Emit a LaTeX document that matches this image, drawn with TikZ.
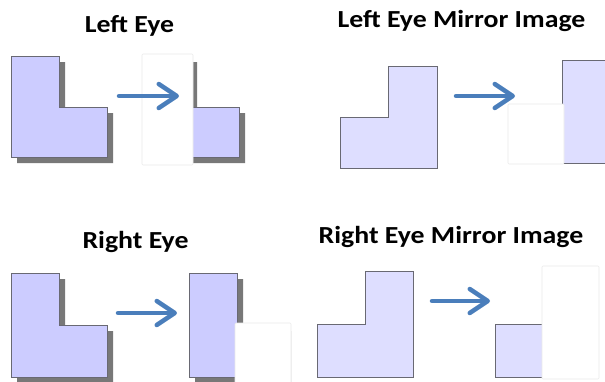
\documentclass[tikz,border=0pt]{standalone}
\usepackage{fontspec}
\setmainfont{Carlito}
\usetikzlibrary{arrows.meta}
\definecolor{lcol}{RGB}{204,204,255}
\definecolor{mcol}{RGB}{222,222,255}
\definecolor{bcol}{RGB}{105,105,115}
\definecolor{scol}{RGB}{120,120,120}
\definecolor{acol}{RGB}{74,126,187}
\newcommand{\wtitle}[1]{\scalebox{1.135}[1]{#1}}
\tikzset{
  lshape/.style={fill=lcol,draw=bcol,line width=0.9pt},
  mshape/.style={fill=mcol,draw=bcol,line width=0.9pt},
  shad/.style={fill=scol,draw=none},
  cover/.style={fill=white,draw=black!8,line width=0.6pt,rounded corners=1pt},
  ttl/.style={font=\bfseries\fontsize{24.5}{28}\selectfont,inner sep=0pt},
  arr/.style={draw=acol,line width=4.5pt,line cap=round,
    -{Straight Barb[length=18pt,width=24pt,line cap=round,line join=round]}},
}
\begin{document}
\begin{tikzpicture}[x=1pt,y=-1pt]
\clip (0,0) rectangle (605,381);
\fill[white] (0,0) rectangle (605,381);
% titles
\node[ttl] (t1) at (129.5,26) {\wtitle{Left Eye}};
\node[ttl] (t2) at (461.5,21) {\wtitle{Left Eye Mirror Image}};
\node[ttl] (t3) at (135.5,242) {\wtitle{Right Eye}};
\node[ttl] (t4) at (451,237) {\wtitle{Right Eye Mirror Image}};
% ---- top-left panel
\fill[shad] (17,62) -- (65,62) -- (65,113) -- (113,113) -- (113,163) -- (17,163) -- cycle;
\draw[lshape] (11,56) -- (59,56) -- (59,107) -- (107,107) -- (107,157) -- (11,157) -- cycle;
\fill[shad] (149,62) -- (197,62) -- (197,113) -- (245,113) -- (245,163) -- (149,163) -- cycle;
\draw[lshape] (143,56) -- (191,56) -- (191,107) -- (239,107) -- (239,157) -- (143,157) -- cycle;
\draw[cover] (142,54) rectangle (193,165);
\coordinate (a1s) at (119,96);
\coordinate (a1e) at (179,96);
\draw[arr] (a1s) -- (a1e);
% ---- top-right panel
\draw[mshape] (388,66) -- (437,66) -- (437,168) -- (340,168) -- (340,117) -- (388,117) -- cycle;
\draw[mshape] (562,60) -- (611,60) -- (611,163) -- (514,163) -- (514,111) -- (562,111) -- cycle;
\draw[cover] (508,104) rectangle (564,164);
\coordinate (a2s) at (456,96);
\coordinate (a2e) at (515,96);
\draw[arr] (a2s) -- (a2e);
% ---- bottom-left panel
\fill[shad] (17,279) -- (65,279) -- (65,331) -- (113,331) -- (113,383) -- (17,383) -- cycle;
\draw[lshape] (11,273) -- (59,273) -- (59,325) -- (107,325) -- (107,377) -- (11,377) -- cycle;
\fill[shad] (195,279) -- (243,279) -- (243,331) -- (291,331) -- (291,383) -- (195,383) -- cycle;
\draw[lshape] (189,273) -- (237,273) -- (237,325) -- (285,325) -- (285,377) -- (189,377) -- cycle;
\draw[cover] (235,323) rectangle (291,386);
\coordinate (a3s) at (118,313);
\coordinate (a3e) at (177,313);
\draw[arr] (a3s) -- (a3e);
% ---- bottom-right panel
\draw[mshape] (365,271) -- (413,271) -- (413,377) -- (317,377) -- (317,324) -- (365,324) -- cycle;
\draw[mshape] (543,271) -- (591,271) -- (591,377) -- (495,377) -- (495,324) -- (543,324) -- cycle;
\draw[cover] (542,266) rectangle (599,379);
\coordinate (a4s) at (432,301);
\coordinate (a4e) at (490,301);
\draw[arr] (a4s) -- (a4e);
\end{tikzpicture}
\end{document}
